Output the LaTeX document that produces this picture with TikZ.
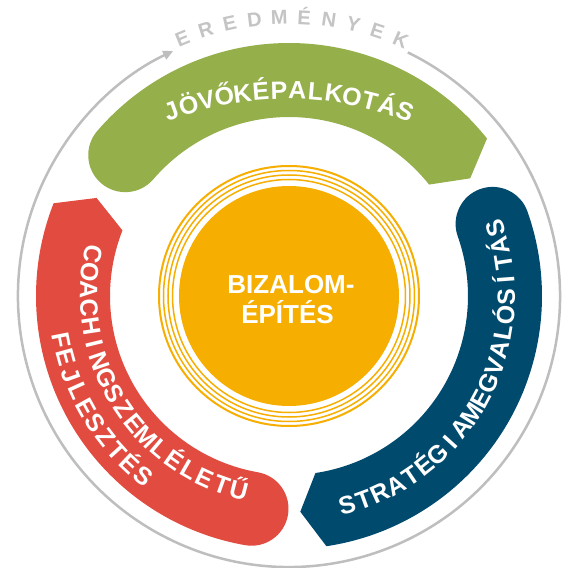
\documentclass[tikz,border=0pt]{standalone}
\usepackage{fontspec}
\setmainfont{Liberation Sans}
\newfontfamily\bandfam{Liberation Sans}
\usetikzlibrary{arrows.meta}
\definecolor{cgreen}{RGB}{149,175,74}
\definecolor{cred}{RGB}{226,75,64}
\definecolor{cblue}{RGB}{0,74,110}
\definecolor{corange}{RGB}{246,174,0}
\definecolor{cgray}{RGB}{190,190,190}
\definecolor{ctgray}{RGB}{196,196,196}
\newcount\arcN
\newdimen\arcW
\newdimen\chW
\newdimen\arcPos
% measure one letter into \chW (narrow I glyphs get a tighter slot)
\newcommand{\measureltr}[2]{%
  \settowidth{\chW}{\bandfam\bfseries\fontsize{#1}{#1}\selectfont #2}%
  \ifnum\strcmp{#2}{I}=0 \chW=0.55\chW \fi
  \ifnum\strcmp{#2}{Í}=0 \chW=0.55\chW \fi
}
% #1 font size (pt), #2 radius, #3 start angle, #4 end angle, #5 letters, #6 name prefix, #7 colour
\newcommand{\arcletters}[7]{%
  \global\arcW=0pt \global\arcN=0
  \foreach \ltr in {#5}{\measureltr{#1}{\ltr}\global\advance\arcW by \chW \global\advance\arcN by 1 }%
  \pgfmathsetmacro{\arcL}{abs(#4-#3)*pi/180*#2}%
  \pgfmathsetmacro{\arcS}{(\arcL-\arcW)/(\arcN-1)}%
  \pgfmathsetmacro{\arcD}{(#4>#3)?1:-1}%
  \global\arcPos=0pt
  \foreach \ltr [count=\k] in {#5}{%
    \measureltr{#1}{\ltr}%
    \pgfmathsetmacro{\ang}{#3 + \arcD*(\arcPos + 0.5*\chW)/#2*180/pi}%
    \pgfmathsetmacro{\rot}{\ang + \arcD*90}%
    \node[anchor=base, inner sep=0pt, rotate=\rot, text=#7,
      font=\bandfam\bfseries\fontsize{#1}{#1}\selectfont] (#6-\k) at (\ang:#2pt) {\ltr};
    \global\advance\arcPos by \chW
    \global\advance\arcPos by \arcS pt
  }%
}
\begin{document}
\begin{tikzpicture}[x=1pt,y=1pt,
  centertext/.style={text=white, font=\bandfam\bfseries\fontsize{26}{26}\selectfont, inner sep=0pt, anchor=base},
  ringline/.style={draw=corange, line width=#1},
]
\fill[white] (-289,-272) rectangle (277,296);
\useasboundingbox (-289,-272) rectangle (277,296);

% outer gray ring with arrow
\draw[cgray, line width=2.5pt, -{Triangle[length=10pt,width=9pt]}]
  (64:271pt) arc[start angle=64, end angle=-244.7, radius=271pt];

% green band
\fill[cgreen] (38.5:253pt) arc[start angle=38.5, end angle=139.3, radius=253pt]
  arc[start angle=139.3, end angle=319.3, radius=37pt]
  arc[start angle=139.3, end angle=38.5, radius=179pt] -- (33:216pt) -- cycle;
% red band
\fill[cred] (158.5:253pt) arc[start angle=158.5, end angle=260, radius=253pt]
  arc[start angle=260, end angle=440, radius=37pt]
  arc[start angle=260, end angle=158.5, radius=179pt] -- (153:216pt) -- cycle;
% blue band
\fill[cblue] (-81.5:253pt) arc[start angle=-81.5, end angle=19.5, radius=253pt]
  arc[start angle=19.5, end angle=199.5, radius=37pt]
  arc[start angle=19.5, end angle=-81.5, radius=179pt] -- (-87:216pt) -- cycle;

% rings and centre disc
\draw[ringline=2pt] (0,0) circle[radius=130pt];
\draw[ringline=1.5pt] (0,0) circle[radius=125.5pt];
\draw[ringline=1.5pt] (0,0) circle[radius=121pt];
\draw[ringline=1.5pt] (0,0) circle[radius=116.5pt];
\fill[corange] (0,0) circle[radius=110pt];

\node[centertext] (bz1) at (2,3) {BIZALOM-};
\node[centertext] (bz2) at (-1.5,-27) {ÉPÍTÉS};

% texts along arcs
\arcletters{20}{272}{112.5}{66.4}{E,R,E,D,M,É,N,Y,E,K}{er}{ctgray}
\begin{scope}[shift={(-2,-133)}]
\arcletters{25}{330}{110}{69.6}{J,Ö,V,Ő,K,É,P,A,L,K,O,T,Á,S}{jo}{white}
\end{scope}
\arcletters{25}{209}{168}{255.5}{C,O,A,C,H,I,N,G,S,Z,E,M,L,É,L,E,T,Ű}{co}{white}
\arcletters{25}{240}{191}{231}{F,E,J,L,E,S,Z,T,É,S}{fe}{white}
\arcletters{25}{226}{-74.5}{18.1}{S,T,R,A,T,É,G,I,A,M,E,G,V,A,L,Ó,S,Í,T,Á,S}{st}{white}
\end{tikzpicture}
\end{document}
